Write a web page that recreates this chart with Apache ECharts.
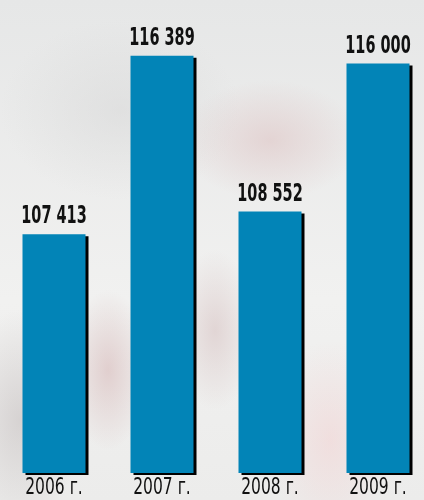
<!DOCTYPE html>
<html>
<head>
<meta charset="utf-8">
<script src="https://cdn.jsdelivr.net/npm/echarts@6/dist/echarts.min.js"></script>
<style>
    html, body { margin: 0; padding: 0; }
    body {
        width: 424px; height: 500px; overflow: hidden;
        background:
            radial-gradient(ellipse 90px 60px at 270px 140px, rgba(222,196,196,0.6), rgba(222,196,196,0)),
            radial-gradient(ellipse 40px 80px at 108px 370px, rgba(215,185,185,0.6), rgba(215,185,185,0)),
            radial-gradient(ellipse 40px 80px at 215px 330px, rgba(215,195,195,0.6), rgba(215,195,195,0)),
            radial-gradient(ellipse 60px 110px at 20px 420px, rgba(195,188,188,0.55), rgba(195,188,188,0)),
            radial-gradient(ellipse 120px 90px at 120px 110px, rgba(212,212,212,0.45), rgba(212,212,212,0)),
            radial-gradient(ellipse 60px 100px at 330px 440px, rgba(242,212,212,0.6), rgba(242,212,212,0)),
            linear-gradient(#e6e7e7, #f1f1f0 60%, #ececeb);
    }
    #chart { width: 432px; height: 500px; }
</style>
</head>
<body>
<div id="chart"></div>
<script>
    var years = ['2006 г.', '2007 г.', '2008 г.', '2009 г.'];
    var values = [107413, 116389, 108552, 116000];

    var yMin = 95400;
    var yMax = 119200;

    var myChart = echarts.init(document.getElementById('chart'));

    // число с пробелом между тысячами: 107 413
    function fmt(v) {
        return String(v).replace(/\B(?=(\d{3})+(?!\d))/g, ' ');
    }

    var pairs = values.map(function (v, i) { return [i, v]; });

    var option = {
        animation: false,
        grid: {
            left: 0,
            right: 0,
            top: 0,
            bottom: 27,
            containLabel: false
        },
        xAxis: {
            type: 'category',
            data: years,
            axisLine: {show: false},
            axisTick: {show: false},
            axisLabel: {show: false}
        },
        yAxis: {
            type: 'value',
            min: yMin,
            max: yMax,
            show: false,
            splitLine: {show: false}
        },
        series: [
            {
                type: 'bar',
                data: values,
                barWidth: 63,
                itemStyle: {
                    color: '#0284b7',
                    shadowColor: '#000',
                    shadowBlur: 0,
                    shadowOffsetX: 3,
                    shadowOffsetY: 2
                }
            },
            {
                // подписи значений (узкий жирный шрифт)
                type: 'custom',
                data: pairs,
                z: 5,
                renderItem: function (params, api) {
                    var pt = api.coord([api.value(0), api.value(1)]);
                    return {
                        type: 'text',
                        x: pt[0],
                        y: pt[1] - 5,
                        scaleX: 0.67,
                        style: {
                            text: fmt(api.value(1)),
                            fill: '#111',
                            font: 'bold 24px "DejaVu Sans Condensed", "DejaVu Sans", sans-serif',
                            align: 'center',
                            verticalAlign: 'bottom'
                        }
                    };
                }
            },
            {
                // подписи годов под столбиками
                type: 'custom',
                data: pairs,
                z: 5,
                renderItem: function (params, api) {
                    var pt = api.coord([api.value(0), yMin]);
                    return {
                        type: 'text',
                        x: pt[0],
                        y: pt[1] + 4,
                        scaleX: 0.75,
                        style: {
                            text: years[params.dataIndex],
                            fill: '#111',
                            font: '23px "DejaVu Sans Condensed", "DejaVu Sans", sans-serif',
                            align: 'center',
                            verticalAlign: 'top'
                        }
                    };
                }
            }
        ]
    };
    myChart.setOption(option, true);
</script>
</body>
</html>
